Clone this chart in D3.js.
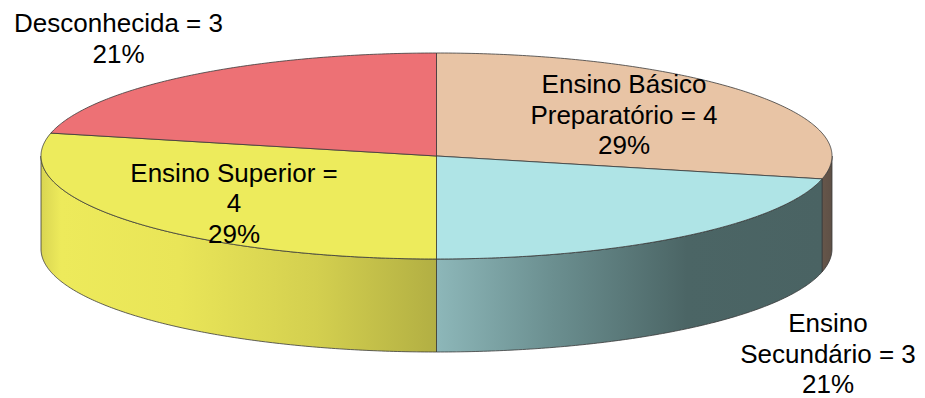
<!DOCTYPE html>
<html><head><meta charset="utf-8">
<script src="https://cdn.jsdelivr.net/npm/d3@7"></script>
<style>html,body{margin:0;padding:0;background:#fff;}svg{display:block;}</style>
</head><body>
<svg id="chart" width="925" height="398"></svg>
<script>
// ---- data ----
const categories = ["Ensino Básico Preparatório", "Ensino Secundário", "Ensino Superior", "Desconhecida"];
const values = [4, 3, 4, 3];

// ---- style / layout ----
const topColors = ["#E8C4A5", "#AFE4E6", "#EDEB5C", "#ED7175"];
const sideStops = [
  [[0, "#66564A"], [1, "#5E5046"]],
  [[0, "#8DB7B9"], [0.3, "#6B8F90"], [0.65, "#4B6565"], [1, "#4A6363"]],
  [[0, "#D9D552"], [0.05, "#EDEA5B"], [0.35, "#E9E558"], [0.7, "#D3CF4F"], [1, "#B2AF43"]]
];
const cx = 436.5, cy = 156, rx = 395.5, ry = 103, depth = 93;
const fontSize = 26, lineH = 30.5;
// label block centre x, first baseline y, wrap width
const labelLayout = [
  {x: 624, y: 93, w: 200},
  {x: 828, y: 332, w: 200},
  {x: 234, y: 181.5, w: 218},
  {x: 118.5, y: 32, w: 260}
];

const svg = d3.select("#chart");
const total = d3.sum(values);
const pie = d3.pie().sort(null).value(d => d)(values);

const px = a => cx + rx * Math.sin(a);
const py = a => cy - ry * Math.cos(a);
function arcPts(a0, a1, dy) {
  const n = Math.max(2, Math.ceil(Math.abs(a1 - a0) / 0.01));
  return d3.range(n + 1).map(i => { const a = a0 + (a1 - a0) * i / n; return [px(a), py(a) + dy]; });
}
const line = d3.line();

// gradients
const defs = svg.append("defs");
pie.forEach((d, i) => {
  const a0 = Math.max(d.startAngle, Math.PI / 2), a1 = Math.min(d.endAngle, 3 * Math.PI / 2);
  if (a1 <= a0) return;
  const xs = [px(a0), px(a1)];
  const g = defs.append("linearGradient").attr("id", "side" + i)
    .attr("gradientUnits", "userSpaceOnUse")
    .attr("x1", d3.min(xs)).attr("x2", d3.max(xs)).attr("y1", 0).attr("y2", 0);
  (sideStops[i] || [[0, topColors[i]], [1, topColors[i]]]).forEach(s => g.append("stop").attr("offset", s[0]).attr("stop-color", s[1]));
});

// side walls (front-visible part only)
const sides = svg.append("g");
pie.forEach((d, i) => {
  const a0 = Math.max(d.startAngle, Math.PI / 2), a1 = Math.min(d.endAngle, 3 * Math.PI / 2);
  if (a1 <= a0) return;
  const pts = arcPts(a0, a1, 0).concat(arcPts(a1, a0, depth));
  sides.append("path").attr("d", line(pts) + "Z")
    .attr("fill", `url(#side${i})`).attr("stroke", "#3a3a3a").attr("stroke-width", 0.8).attr("stroke-linejoin", "round");
});

// top faces
const tops = svg.append("g");
pie.forEach((d, i) => {
  const pts = [[cx, cy]].concat(arcPts(d.startAngle, d.endAngle, 0));
  tops.append("path").attr("d", line(pts) + "Z")
    .attr("fill", topColors[i]).attr("stroke", "#3a3a3a").attr("stroke-width", 0.8).attr("stroke-linejoin", "round");
});

// labels
const labels = svg.append("g").attr("font-family", "'Liberation Sans', Arial, sans-serif")
  .attr("font-size", fontSize).attr("fill", "#000").attr("text-anchor", "middle");
const measurer = labels.append("text").attr("visibility", "hidden");
function wrap(str, w) {
  const words = str.split(" "); const out = []; let cur = "";
  words.forEach(wd => {
    const t = cur ? cur + " " + wd : wd;
    measurer.text(t);
    if (cur && measurer.node().getComputedTextLength() > w) { out.push(cur); cur = wd; } else cur = t;
  });
  if (cur) out.push(cur);
  return out;
}
pie.forEach((d, i) => {
  const L = labelLayout[i];
  const lines = wrap(`${categories[i]} = ${values[i]}`, L.w);
  lines.push(Math.round(values[i] / total * 100) + "%");
  const t = labels.append("text");
  lines.forEach((s, k) => t.append("tspan").attr("x", L.x).attr("y", L.y + k * lineH).text(s));
});
measurer.remove();
</script>
</body></html>
